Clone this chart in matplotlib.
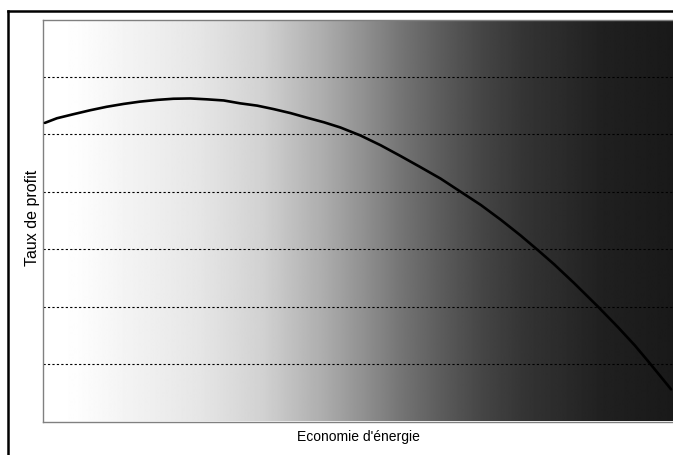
#imports
import numpy as np
import matplotlib
matplotlib.use("Agg")
from matplotlib import pyplot as plt
from matplotlib.lines import Line2D

#values (x: energy saving, y: profit rate)
economie = [0.03, 0.22, 0.48, 0.75, 1.01, 1.28, 1.54, 1.81, 2.07, 2.34,
            2.60, 2.87, 3.13, 3.40, 3.66, 3.93, 4.19, 4.46, 4.72, 5.04,
            5.36, 5.68, 5.99, 6.31, 6.63, 6.95, 7.27, 7.58, 7.87, 8.11,
            8.43, 8.80, 9.12, 9.39, 9.62, 9.97]
taux_profit = [5.20, 5.28, 5.35, 5.42, 5.48, 5.53, 5.57, 5.60, 5.62, 5.625,
               5.61, 5.59, 5.54, 5.50, 5.44, 5.37, 5.29, 5.21, 5.12, 4.98,
               4.81, 4.62, 4.43, 4.23, 4.00, 3.77, 3.51, 3.24, 2.97, 2.74,
               2.41, 2.01, 1.65, 1.33, 1.03, 0.56]
grid_levels = [1, 2, 3, 4, 5, 6]

#background shade (grey level) from left to right of the plot area
shade_pos = [0.0, 0.05, 0.12, 0.25, 0.35, 0.45, 0.51, 0.57, 0.64, 0.70, 0.77, 0.83, 0.89, 1.0]
shade_val = [1.0, 0.995, 0.96, 0.90, 0.82, 0.67, 0.565, 0.455, 0.35, 0.27, 0.20, 0.165, 0.125, 0.10]

plt.rcParams['font.family'] = ['Liberation Sans', 'DejaVu Sans']

fig = plt.figure(figsize=(6.73, 4.55), dpi=100)
ax = fig.add_axes([43/673, 33.5/455, 630/673, 402/455])

#gradient background
xs = np.linspace(0, 1, 600)
grey = np.interp(xs, shade_pos, shade_val)
ax.imshow(grey[np.newaxis, :], cmap='gray', vmin=0, vmax=1, aspect='auto',
          extent=(0, 10, 0, 7), zorder=0, interpolation='bilinear')

#dotted horizontal lines
ax.set_yticks(grid_levels)
ax.yaxis.grid(True, color='black', linestyle=(0, (2, 2)), linewidth=0.8)
ax.set_xticks([])
ax.tick_params(length=0, labelleft=False)

#the curve
ax.plot(economie, taux_profit, color='black', linewidth=1.9, zorder=3,
        solid_joinstyle='round', solid_capstyle='round')

ax.set_xlim(0, 10)
ax.set_ylim(0, 7)

for side in ['left', 'bottom', 'top']:
    ax.spines[side].set_color('#808080')
    ax.spines[side].set_linewidth(1.0)
ax.spines['right'].set_visible(False)

#labels
ax.set_xlabel("Economie d'énergie", fontsize=10)
ax.xaxis.label.set_va('center')
ax.xaxis.set_label_coords(0.5, -0.0386)
ax.set_ylabel("Taux de profit", fontsize=11.5)
ax.yaxis.label.set_va('center')
ax.yaxis.set_label_coords(-0.016, 0.506)

#outer frame (only left and top are in the image)
fig.add_artist(Line2D([8/673, 8/673], [0, 1 - 11/455], transform=fig.transFigure,
                      color='black', linewidth=1.8))
fig.add_artist(Line2D([8/673, 1], [1 - 11/455, 1 - 11/455], transform=fig.transFigure,
                      color='black', linewidth=1.8))

fig.savefig('out.png', dpi=100)
